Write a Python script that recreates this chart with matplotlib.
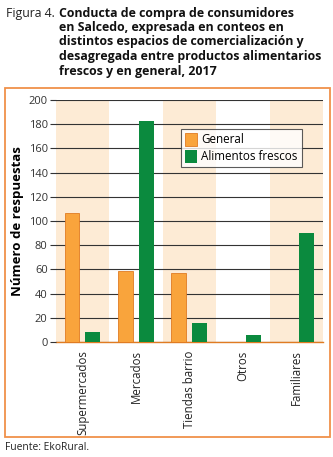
import matplotlib
matplotlib.use("Agg")
import matplotlib.pyplot as plt
from matplotlib.patches import Rectangle

categories = ["Supermercados", "Mercados", "Tiendas barrio", "Otros", "Familiares"]
general = [107, 59, 57, 0, 0]
frescos = [8, 183, 16, 6, 90]
yticks = [0, 20, 40, 60, 80, 100, 120, 140, 160, 180, 200]

W, H = 333, 457
orange = "#F9A43C"
orange_edge = "#E07B22"
green = "#0B8A3E"
band = "#FDEBD5"
frame = "#F0914A"

plt.rcParams["font.family"] = ["Open Sans", "DejaVu Sans"]

fig = plt.figure(figsize=(W / 100, H / 100), dpi=100)

# outer orange frame
fig.patches.append(Rectangle((5 / W, 1 - 437 / H), 325 / W, 349 / H,
                             transform=fig.transFigure, fill=False,
                             edgecolor=frame, linewidth=1.3))

fig.text(6 / W, 1 - 13.5 / H, "Figura 4.", fontsize=8.8, va="center", color="#222222")
fig.text(59 / W, 1 - 42 / H,
         "Conducta de compra de consumidores\nen Salcedo, expresada en conteos en\n"
         "distintos espacios de comercialización y\ndesagregada entre productos alimentarios\n"
         "frescos y en general, 2017",
         fontsize=8.9, fontweight="bold", va="center", linespacing=1.15, color="#111111")

ax = fig.add_axes([56 / W, 1 - 342 / H, 267 / W, 242 / H])
x = range(len(categories))
for i in x:
    if i % 2 == 0:
        ax.axvspan(i - 0.5, i + 0.5, color=band, zorder=0, lw=0)

ax.bar([i - 0.2 for i in x], general, width=0.28, color=orange,
       edgecolor=orange_edge, linewidth=0.6, label="General", zorder=3)
ax.bar([i + 0.19 for i in x], frescos, width=0.28, color=green,
       label="Alimentos frescos", zorder=3)

ax.set_xlim(-0.5, 4.5)
ax.set_ylim(0, 200)
ax.set_yticks(yticks)
ax.yaxis.grid(True, color="#333333", linewidth=0.8, zorder=1)
ax.set_axisbelow(False)
ax.tick_params(axis="y", length=4, color="#333333", labelsize=8, labelcolor="#333333", pad=2)
ax.set_xticks(list(x))
ax.set_xticklabels(categories, rotation=90, fontsize=8.3, color="#222222")
ax.tick_params(axis="x", length=0, pad=6)
for s in ["top", "right"]:
    ax.spines[s].set_visible(False)
ax.spines["left"].set_visible(False)
ax.spines["bottom"].set_color(orange_edge)
ax.spines["bottom"].set_linewidth(1.0)
ax.set_ylabel("Número de respuestas", fontsize=9.5, fontweight="bold", labelpad=3)

leg = ax.legend(loc="upper left", bbox_to_anchor=((181 - 56) / 267, (342 - 129) / 242),
                fontsize=8.4, frameon=True, fancybox=False, edgecolor="#333333",
                handlelength=1.0, handleheight=1.3, handletextpad=0.4,
                borderpad=0.35, labelspacing=0.3, borderaxespad=0)
leg.get_frame().set_linewidth(0.8)

fig.text(5 / W, 1 - 447 / H, "Fuente: EkoRural.", fontsize=7.4, va="center", color="#222222")

fig.savefig("out.png", dpi=100)
